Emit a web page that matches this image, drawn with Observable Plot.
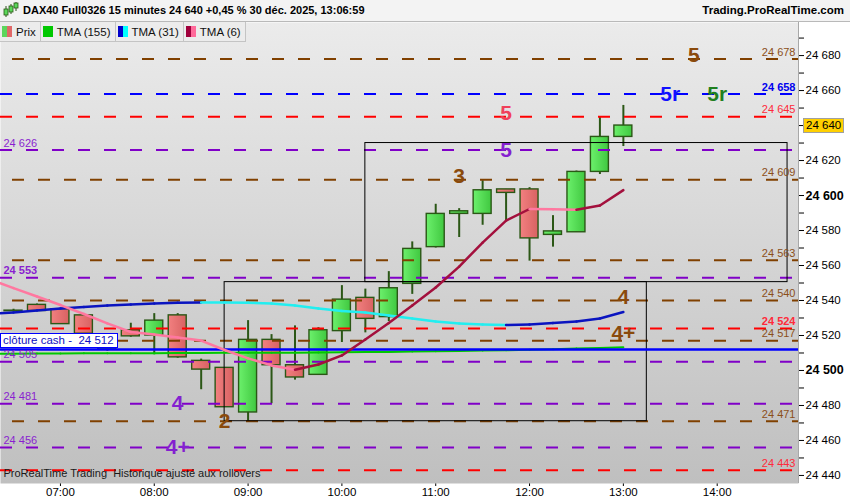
<!DOCTYPE html>
<html>
<head>
<meta charset="utf-8">
<script src="https://cdn.jsdelivr.net/npm/d3@7"></script>
<script src="https://cdn.jsdelivr.net/npm/@observablehq/plot@0.6"></script>
<style>
  body { margin: 0; background: #fff; font-family: "Liberation Sans", Arial, sans-serif; }
  #top { position: relative; width: 850px; height: 21px; background: #f3f3f3; border-bottom: 1px solid #b9b9b9; font-weight: bold; color: #000; }
  #top .ico { position: absolute; left: 3px; top: 2px; }
  #top .t { position: absolute; left: 23px; top: 4px; font-size: 11px; }
  #top .r { position: absolute; right: 6px; top: 4px; font-size: 11.5px; }
  #wrap { position: relative; width: 850px; height: 478px; }
  #legend { position: absolute; left: 0; top: 0; display: flex; font-size: 11.5px; color: #111; }
  #legend > div { height: 19px; padding: 0 4px 0 2px; border-right: 1px solid #c4c4c4; border-bottom: 1px solid #c4c4c4; background: #ececec; display: flex; align-items: center; }
  .sw { display: inline-flex; width: 10px; height: 11px; margin-right: 4px; }
  .sw i { flex: 1; }
  #cash { position: absolute; left: 0; height: 13px; border: 1.5px solid #0000ff; background: #fff; color: #1010c0; font-size: 11.5px; line-height: 13px; padding: 0 3px 0 2px; white-space: pre; }
  #tag { position: absolute; left: 803px; height: 13px; border: 1px solid #a0a0a0; background: #ffd000; font-size: 11.5px; line-height: 13px; padding: 0 2px; white-space: nowrap; }
</style>
</head>
<body>
<svg width="0" height="0" style="position:absolute">
  <defs>
    <linearGradient id="bg" x1="0" y1="0" x2="0" y2="1">
      <stop offset="0" stop-color="#ebebeb"/>
      <stop offset="1" stop-color="#bfbfbf"/>
    </linearGradient>
    <linearGradient id="up" x1="0" y1="0" x2="1" y2="0">
      <stop offset="0" stop-color="#6cf06c"/>
      <stop offset="1" stop-color="#40c840"/>
    </linearGradient>
    <linearGradient id="dn" x1="0" y1="0" x2="1" y2="0">
      <stop offset="0" stop-color="#f28080"/>
      <stop offset="1" stop-color="#d86262"/>
    </linearGradient>
  </defs>
</svg>
<div id="top">
  <svg class="ico" width="16" height="17">
    <line x1="3" y1="4" x2="3" y2="15" stroke="#2b5716"/><rect x="1" y="7" width="4" height="6" fill="#5bd85b" stroke="#2b5716" stroke-width="0.8"/>
    <line x1="8" y1="2" x2="8" y2="12" stroke="#2b5716"/><rect x="6" y="4" width="4" height="6" fill="#5bd85b" stroke="#2b5716" stroke-width="0.8"/>
    <line x1="13" y1="0" x2="13" y2="9" stroke="#2b5716"/><rect x="11" y="1" width="4" height="5" fill="#5bd85b" stroke="#2b5716" stroke-width="0.8"/>
  </svg>
  <span class="t">DAX40 Full0326 15 minutes 24 640 +0,45 % 30 déc. 2025, 13:06:59</span>
  <span class="r">Trading.ProRealTime.com</span>
</div>
<div id="wrap">
  <div id="chart"></div>
  <div id="legend">
    <div><span class="sw"><i style="background:#5cd65c"></i><i style="background:#e06868"></i></span>Prix</div>
    <div><span class="sw"><i style="background:#00c800"></i></span>TMA (155)</div>
    <div><span class="sw"><i style="background:#0000cc"></i><i style="background:#00ffff"></i></span>TMA (31)</div>
    <div><span class="sw"><i style="background:#a0003c"></i><i style="background:#ff6a9a"></i></span>TMA (6)</div>
  </div>
  <div id="cash"></div>
  <div id="tag"></div>
</div>
<script>
// bougies 15 minutes du 30 déc. 2025
const times = ["06:30","06:45","07:00","07:15","07:30","07:45","08:00","08:15","08:30","08:45",
  "09:00","09:15","09:30","09:45","10:00","10:15","10:30","10:45","11:00","11:15",
  "11:30","11:45","12:00","12:15","12:30","12:45","13:00"]
const open = [24534.2, 24537.5, 24535, 24531.5, 24512, 24523, 24520, 24531.5, 24505.5, 24501.5,
  24476, 24517.5, 24503, 24497.5, 24522.5, 24541.5, 24530.5, 24549.5, 24570.5, 24589.5,
  24589.5, 24603.5, 24603.5, 24577.5, 24579, 24613.5, 24633.5]
const high = [24535, 24538, 24535.5, 24531.5, 24516, 24527, 24532.5, 24532.5, 24506.5, 24501.5,
  24528.5, 24520.5, 24525.5, 24524.5, 24548.5, 24546.5, 24556.5, 24573.5, 24595, 24592.5,
  24608.5, 24603.5, 24604.5, 24588.5, 24614, 24645, 24651.5]
const low = [24533.5, 24534, 24526.5, 24520, 24511, 24519, 24509, 24507, 24489, 24479,
  24470.5, 24481, 24494.5, 24497.5, 24516, 24521.5, 24528, 24543.5, 24570, 24576,
  24583, 24585.5, 24562.5, 24570.5, 24579, 24612, 24628]
const close = [24533.9, 24534, 24526.5, 24521, 24515.5, 24519.5, 24528.5, 24507.5, 24500.5, 24479,
  24517.5, 24503, 24496, 24523, 24540.5, 24529.5, 24547, 24569.5, 24589.5, 24591,
  24603, 24601.5, 24575.5, 24579.5, 24613.5, 24633.5, 24640]

// moyennes mobiles (une valeur de plus : la bougie 06:15)
const maTimes = ["06:15", ...times]
const tma155 = [24509.6, 24509.6, 24509.7, 24509.7, 24509.8, 24509.8, 24509.9, 24509.9, 24510, 24510,
  24510.1, 24510.1, 24510.2, 24510.2, 24510.3, 24510.4, 24510.5, 24510.6, 24510.8, 24511,
  24511.2, 24511.4, 24511.6, 24511.8, 24512.1, 24512.5, 24512.9, 24513.3]
const tma31 = [24532.5, 24533.1, 24534.3, 24535.4, 24536.3, 24537.1, 24537.7, 24538.3, 24538.7, 24538.9,
  24538.85, 24538.7, 24538.3, 24537.1, 24535.4, 24534, 24533.1, 24531.4, 24529.7, 24528,
  24526.9, 24526.3, 24526, 24526.3, 24527.1, 24528, 24529.7, 24533.4]
const tma6 = [24552, 24547.1, 24542.3, 24537.4, 24532.3, 24526.9, 24522, 24520.6, 24518.9, 24517.1,
  24511.7, 24506.9, 24502.9, 24500.4, 24503.4, 24508.6, 24517.7, 24527.1, 24537.1, 24547.4,
  24559.4, 24573.1, 24585.7, 24592.3, 24592.1, 24591.9, 24594.3, 24603.1]

// niveaux horizontaux
const levelPrices = [24678, 24658, 24645, 24626, 24609, 24563, 24553, 24540, 24524, 24517, 24505, 24481, 24471, 24456, 24443]
const levelKinds = ["brown","blue","red","purple","brown","brown","purple","brown","red","brown","purple","purple","brown","purple","red"]
const levelSides = ["right","right","right","left","right","right","left","right","right","right","left","left","right","left","right"]

const cashClose = 24512
const lastPrice = 24640

// repères de zones
const zoneTexts = ["5","5r","5r","5","5","3","4","4+","4","2","4+"]
const zoneTimes = ["13:45","13:30","14:00","11:45","11:45","11:15","13:00","13:00","08:15","08:45","08:15"]
const zonePrices = [24680, 24658, 24658, 24647, 24626, 24611, 24542, 24521, 24481, 24471, 24456]
const zoneKinds = ["brown","blue","green","red","purple","brown","brown","brown","purple","brown","purple"]

// rectangles
const boxStart = ["10:15","08:45"]
const boxEnd = ["14:45","13:15"]
const boxLow = [24550.5, 24471]
const boxHigh = [24630, 24550.5]

const xTicks = ["07:00","08:00","09:00","10:00","11:00","12:00","13:00","14:00"]
const yLabels = [24440, 24460, 24480, 24520, 24540, 24560, 24580, 24620, 24660, 24680]
const yBoldLabels = [24500, 24600]
const yTickMarks = d3.range(24440, 24700, 10)
const xRange = ["06:21:40", "14:52"]
const yRange = [24435.4, 24698.9]
const footNote = "ProRealTime Trading\u00a0 Historique ajusté aux rollovers"

const toDate = s => {
  const [h, m, sec] = s.split(":").map(Number)
  return new Date(2025, 11, 30, h, m, sec || 0)
}
const fmt = v => d3.format(",")(v).replace(/,/g, " ")

const candles = times.map((s, i) => ({t: toDate(s), o: open[i], h: high[i], l: low[i], c: close[i]}))
const levels = levelPrices.map((p, i) => ({p, k: levelKinds[i], side: levelSides[i]}))
const zones = zoneTexts.map((s, i) => ({s, t: toDate(zoneTimes[i]), p: zonePrices[i], k: zoneKinds[i]}))
const boxes = boxStart.map((s, i) => ({t1: toDate(s), t2: toDate(boxEnd[i]), lo: boxLow[i], hi: boxHigh[i]}))

// segments colorés selon la pente
const segments = (vals, up, down) => vals.slice(1).map((v, i) => ({
  t1: toDate(maTimes[i]), v1: vals[i], t2: toDate(maTimes[i + 1]), v2: v, c: v >= vals[i] ? up : down
}))

const lineColors = {brown: "#804000", blue: "#0000ff", red: "#ff0000", purple: "#8000c8"}
const labelColors = {brown: "#8b4f1a", blue: "#0000ee", red: "#ff2a3a", purple: "#8a1fd0"}
const bigColors = {brown: "#8a4a0c", blue: "#1010ff", green: "#1f7f1f", red: "#f0405a", purple: "#8420d0"}
const boldLevels = [24658, 24524, 24553]
const halfBody = 5.75 * 60000
const wickColor = "#2b5716"
const linkOpts = {x1: "t1", y1: "v1", x2: "t2", y2: "v2", stroke: "c", strokeWidth: 2.5, strokeLinecap: "round", clip: true}

let chart = Plot.plot({
  width: 850,
  height: 478,
  marginTop: 0,
  marginRight: 52,
  marginBottom: 17,
  marginLeft: 0,
  style: {fontFamily: "Liberation Sans, Arial, sans-serif", fontSize: "11.5px", background: "transparent", color: "#000"},
  x: {type: "time", domain: xRange.map(toDate), ticks: xTicks.map(toDate), tickFormat: d3.timeFormat("%H:%M"), tickSize: 3, tickPadding: 1, label: null},
  y: {domain: yRange, axis: "right", ticks: yTickMarks, tickSize: 5, tickFormat: () => "", label: null},
  color: {type: "identity"},
  marks: [
    Plot.frame({fill: "url(#bg)"}),
    Plot.ruleX(candles, {x: "t", y1: "l", y2: "h", stroke: wickColor, strokeWidth: 2}),
    Plot.rect(candles, {
      x1: d => new Date(+d.t - halfBody), x2: d => new Date(+d.t + halfBody),
      y1: "o", y2: "c",
      fill: d => d.c >= d.o ? "url(#up)" : "url(#dn)",
      stroke: wickColor, strokeWidth: 1.4
    }),
    Plot.ruleY(levels.filter(d => d.k != "brown"), {y: "p", stroke: d => lineColors[d.k], strokeWidth: 2, strokeDasharray: "12,14"}),
    Plot.ruleY(levels.filter(d => d.k == "brown"), {y: "p", stroke: lineColors.brown, strokeWidth: 2, strokeDasharray: "12,14", strokeDashoffset: 14}),
    Plot.rect(boxes, {x1: "t1", x2: "t2", y1: "lo", y2: "hi", fill: "none", stroke: "#000", strokeWidth: 1}),
    Plot.link(segments(tma155, "#00c800", "#00c800"), {...linkOpts, strokeWidth: 2}),
    Plot.ruleY([cashClose], {stroke: "#0000ff", strokeWidth: 2.5}),
    Plot.link(segments(tma31, "#0a14c0", "#22eef0"), linkOpts),
    Plot.link(segments(tma6, "#a3103d", "#ff78a0"), linkOpts),
    Plot.text(levels.filter(d => d.side == "right" && !boldLevels.includes(d.p)), {
      y: "p", text: d => fmt(d.p), frameAnchor: "right", textAnchor: "end", dx: -3, dy: -7,
      fill: d => labelColors[d.k], fontSize: 11
    }),
    Plot.text(levels.filter(d => d.side == "right" && boldLevels.includes(d.p)), {
      y: "p", text: d => fmt(d.p), frameAnchor: "right", textAnchor: "end", dx: -3, dy: -7,
      fill: d => labelColors[d.k], fontSize: 11, fontWeight: "bold"
    }),
    Plot.text(levels.filter(d => d.side == "left" && !boldLevels.includes(d.p)), {
      y: "p", text: d => fmt(d.p), frameAnchor: "left", textAnchor: "start", dx: 3, dy: -7,
      fill: d => labelColors[d.k], fontSize: 11
    }),
    Plot.text(levels.filter(d => d.side == "left" && boldLevels.includes(d.p)), {
      y: "p", text: d => fmt(d.p), frameAnchor: "left", textAnchor: "start", dx: 3, dy: -7,
      fill: d => labelColors[d.k], fontSize: 11, fontWeight: "bold"
    }),
    Plot.text(zones, {x: "t", y: "p", text: "s", fill: d => bigColors[d.k], fontSize: 21, fontWeight: "bold"}),
    Plot.text([footNote], {text: d => d, frameAnchor: "bottom-left", textAnchor: "start", dx: 3, dy: -7, fontSize: 11, fill: "#1a1a1a"}),
    Plot.ruleX([toDate(xRange[1])], {stroke: "#a8a8a8"}),
    Plot.text(yLabels, {y: d => d, text: fmt, frameAnchor: "right", textAnchor: "start", dx: 7, fontSize: 11.5, fill: "#000"}),
    Plot.text(yBoldLabels, {y: d => d, text: fmt, frameAnchor: "right", textAnchor: "start", dx: 7, fontSize: 12.5, fontWeight: "bold", fill: "#000"})
  ]
})

d3.select('#chart').append(() => chart)

// étiquettes HTML placées avec l'échelle y du graphique
const ys = chart.scale("y")
const yPix = v => ys.apply ? ys.apply(v) : d3.scaleLinear(ys.domain, ys.range)(v)
d3.select('#cash').style("top", (yPix(cashClose) - 16) + "px").text("clôture cash -  " + fmt(cashClose))
d3.select('#tag').style("top", (yPix(lastPrice) - 7.5) + "px").text(fmt(lastPrice))
</script>
</body>
</html>
